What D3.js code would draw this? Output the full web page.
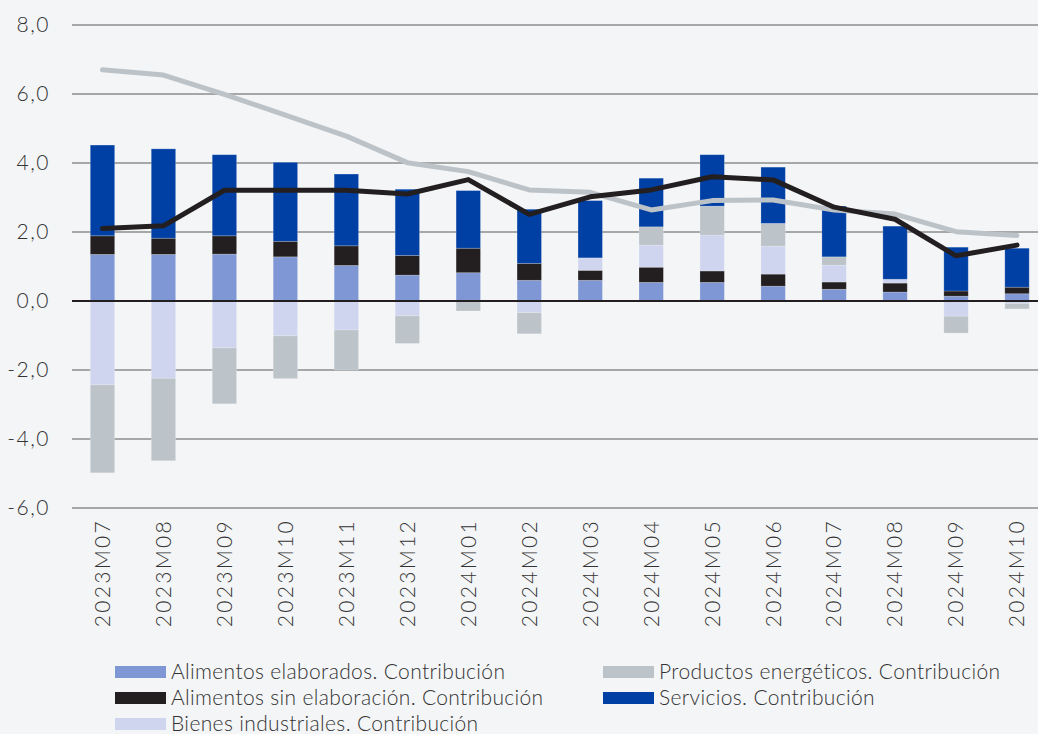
<!DOCTYPE html>
<meta charset="utf-8">
<script src="https://d3js.org/d3.v7.min.js"></script>
<style>
  body { margin: 0; background: #f3f5f7; }
  svg { display: block; background: #f3f5f7; }
  text { font-family: Lato, "Open Sans", sans-serif; font-weight: 300; fill: #333333; }
</style>
<body>
<div id="chart"></div>
<script>

// months on the x axis
var meses = ["2023M07","2023M08","2023M09","2023M10","2023M11","2023M12",
  "2024M01","2024M02","2024M03","2024M04","2024M05","2024M06",
  "2024M07","2024M08","2024M09","2024M10"];

// contributions (percentage points)
var alimentosElaborados = [1.35,1.35,1.36,1.28,1.03,0.75,0.82,0.60,0.60,0.54,0.54,0.43,0.34,0.26,0.14,0.21];
var alimentosSinElab    = [0.54,0.47,0.53,0.45,0.57,0.57,0.71,0.49,0.29,0.44,0.33,0.35,0.21,0.26,0.15,0.19];
var bienesIndustriales  = [-2.43,-2.24,-1.36,-1.01,-0.84,-0.43,0,-0.34,0.36,0.64,1.04,0.81,0.49,0.11,-0.44,-0.07];
var productosEnergeticos= [-2.55,-2.39,-1.62,-1.24,-1.16,-0.80,-0.29,-0.61,0,0.53,0.84,0.66,0.24,0,-0.49,-0.16];
var servicios           = [2.63,2.59,2.35,2.29,2.08,1.92,1.67,1.57,1.66,1.41,1.49,1.63,1.47,1.54,1.27,1.13];

// the two lines
var lineaNegra = [2.1,2.18,3.21,3.21,3.21,3.1,3.52,2.51,3.02,3.22,3.6,3.51,2.72,2.37,1.31,1.62];
var lineaGris  = [6.7,6.55,5.99,5.39,4.78,4.01,3.75,3.22,3.15,2.64,2.91,2.93,2.64,2.52,2.01,1.9];

var yTicks = [-6,-4,-2,0,2,4,6,8];

var series = [
  {key: "elab",  name: "Alimentos elaborados. Contribución",       color: "#7f97d4", values: alimentosElaborados},
  {key: "sin",   name: "Alimentos sin elaboración. Contribución",  color: "#231f20", values: alimentosSinElab},
  {key: "bien",  name: "Bienes industriales. Contribución",        color: "#cfd5ee", values: bienesIndustriales},
  {key: "ener",  name: "Productos energéticos. Contribución",      color: "#bcc3c9", values: productosEnergeticos},
  {key: "serv",  name: "Servicios. Contribución",                  color: "#0040a4", values: servicios}
];

var W = 1038, H = 734;

var svg = d3.select("#chart").append("svg")
  .attr("width", W)
  .attr("height", H);

var x = d3.scaleBand()
  .domain(meses)
  .range([72, 1047.5])
  .paddingInner(0.6)
  .paddingOuter(0.3);

var y = d3.scaleLinear()
  .domain([-6, 8])
  .range([508, 25]);

// grid
svg.append("g").selectAll("line")
  .data(yTicks.filter(function(d){ return d != 0; }))
  .enter().append("line")
  .attr("x1", 72).attr("x2", W)
  .attr("y1", function(d){ return y(d); })
  .attr("y2", function(d){ return y(d); })
  .attr("stroke", "#8c8c8c")
  .attr("stroke-width", 1.4);

// y labels
svg.append("g").selectAll("text")
  .data(yTicks)
  .enter().append("text")
  .attr("x", 50)
  .attr("y", function(d){ return y(d); })
  .attr("dy", "0.35em")
  .attr("text-anchor", "end")
  .style("font-size", "21px")
  .style("letter-spacing", "1.5px")
  .text(function(d){ return d3.format(".1f")(d).replace(".", ",").replace("−", "-"); });

// stacked bars
var table = meses.map(function(m, i) {
  var row = {mes: m};
  series.forEach(function(s){ row[s.key] = s.values[i]; });
  return row;
});

var stack = d3.stack()
  .keys(series.map(function(s){ return s.key; }))
  .offset(d3.stackOffsetDiverging);

var stacked = stack(table);

svg.append("g").selectAll("g")
  .data(stacked)
  .enter().append("g")
  .attr("fill", function(d, i){ return series[i].color; })
  .selectAll("rect")
  .data(function(d){ return d; })
  .enter().append("rect")
  .attr("x", function(d){ return x(d.data.mes); })
  .attr("width", x.bandwidth())
  .attr("y", function(d){ return y(Math.max(d[0], d[1])); })
  .attr("height", function(d){ return Math.abs(y(d[0]) - y(d[1])); })
  .attr("stroke", "rgba(255,255,255,0.25)")
  .attr("stroke-width", 0.8);

// zero line
svg.append("line")
  .attr("x1", 72).attr("x2", W)
  .attr("y1", y(0)).attr("y2", y(0))
  .attr("stroke", "#231f20")
  .attr("stroke-width", 2);

// lines
var line = d3.line()
  .x(function(d, i){ return x(meses[i]) + x.bandwidth() / 2; })
  .y(function(d){ return y(d); });

svg.append("path")
  .datum(lineaGris)
  .attr("d", line)
  .attr("fill", "none")
  .attr("stroke", "#bcc3c8")
  .attr("stroke-width", 5)
  .attr("stroke-linecap", "round")
  .attr("stroke-linejoin", "round");

svg.append("path")
  .datum(lineaNegra)
  .attr("d", line)
  .attr("fill", "none")
  .attr("stroke", "#231f20")
  .attr("stroke-width", 5)
  .attr("stroke-linecap", "round")
  .attr("stroke-linejoin", "round");

// x labels
svg.append("g").selectAll("text")
  .data(meses)
  .enter().append("text")
  .attr("transform", function(d){
    return "translate(" + (x(d) + x.bandwidth() / 2) + ",519) rotate(-90)";
  })
  .attr("text-anchor", "end")
  .attr("dy", "0.35em")
  .style("font-size", "21px")
  .style("letter-spacing", "2.3px")
  .text(function(d){ return d; });

// legend
var legendPos = [
  {s: 0, x: 115, y: 672},
  {s: 3, x: 603, y: 672},
  {s: 1, x: 115, y: 698},
  {s: 4, x: 603, y: 698},
  {s: 2, x: 115, y: 724}
];

var lg = svg.append("g").selectAll("g")
  .data(legendPos)
  .enter().append("g");

lg.append("rect")
  .attr("x", function(d){ return d.x; })
  .attr("y", function(d){ return d.y - 6; })
  .attr("width", 51)
  .attr("height", 12)
  .attr("fill", function(d){ return series[d.s].color; });

lg.append("text")
  .attr("x", function(d){ return d.x + 56; })
  .attr("y", function(d){ return d.y; })
  .attr("dy", "0.35em")
  .style("font-size", "21px")
  .style("letter-spacing", "0.35px")
  .text(function(d){ return series[d.s].name; });

</script>
</body>
